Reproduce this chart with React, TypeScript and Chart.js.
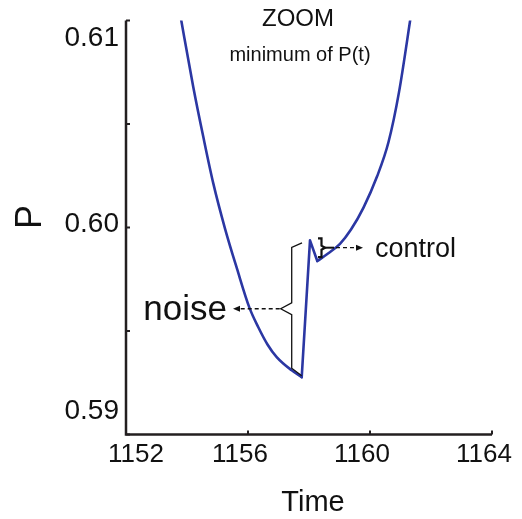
import React, { useEffect, useRef } from "react";
import { Chart, registerables } from "chart.js";

Chart.register(...registerables);

// Series: P(t) around the minimum
const TIME = [1153.77, 1154.207, 1154.534, 1154.862, 1155.246, 1155.639, 1156.043, 1156.338, 1156.639, 1156.941, 1157.433, 1157.761, 1158.033, 1158.272, 1158.623, 1159.016, 1159.377, 1159.787, 1160.23, 1160.607, 1160.951, 1161.361];
const P_VALUES = [0.61035, 0.60678, 0.60438, 0.60213, 0.59995, 0.59801, 0.59614, 0.59518, 0.59435, 0.59374, 0.5931, 0.59277, 0.59938, 0.59838, 0.59874, 0.59921, 0.5999, 0.60096, 0.60246, 0.60413, 0.60654, 0.61044];

const X_TICKS = [1152, 1156, 1160, 1164];
const Y_TICKS = [0.59, 0.595, 0.6, 0.605, 0.61];
const Y_LABELS = [0.59, 0.6, 0.61];
const X_RANGE = [1152, 1164];
const Y_RANGE = [0.59, 0.61];

const TITLE = "ZOOM";
const SUBTITLE = "minimum of P(t)";
const X_TITLE = "Time";
const Y_TITLE = "P";
const NOISE_LABEL = "noise";
const CONTROL_LABEL = "control";

const FONT = '"Liberation Sans", Arial, Helvetica, sans-serif';
const CURVE = "#2b37a3";
const INK = "#231f20";

function pts(a: number, b: number) {
  const out: { x: number; y: number }[] = [];
  for (let i = a; i <= b; i++) out.push({ x: TIME[i], y: P_VALUES[i] });
  return out;
}

export default function App() {
  const ref = useRef<HTMLCanvasElement | null>(null);

  useEffect(() => {
    if (!ref.current) return;
    // indices of the noise minimum, the kick peak and the control dip
    let minIdx = 0;
    for (let i = 0; i < P_VALUES.length; i++) if (P_VALUES[i] < P_VALUES[minIdx]) minIdx = i;
    const peakIdx = minIdx + 1;
    const dipIdx = minIdx + 2;

    const annot = {
      id: "annot",
      beforeDatasetsDraw(chart: any) {
        const ctx = chart.ctx;
        const xs = chart.scales.x;
        const ys = chart.scales.y;
        const ca = chart.chartArea;
        ctx.save();
        ctx.strokeStyle = INK;
        ctx.lineWidth = 2.5;
        ctx.lineCap = "butt";
        ctx.beginPath();
        ctx.moveTo(ca.left, ca.top);
        ctx.lineTo(ca.left, ca.bottom);
        ctx.lineTo(ca.right, ca.bottom);
        ctx.stroke();
        ctx.lineWidth = 2;
        // inward ticks
        for (const v of X_TICKS) {
          const px = xs.getPixelForValue(v);
          ctx.beginPath();
          ctx.moveTo(px, ca.bottom);
          ctx.lineTo(px, ca.bottom - 4);
          ctx.stroke();
        }
        for (const v of Y_TICKS) {
          const py = ys.getPixelForValue(v);
          ctx.beginPath();
          ctx.moveTo(ca.left, py);
          ctx.lineTo(ca.left + 4, py);
          ctx.stroke();
        }
        ctx.restore();
      },
      afterDraw(chart: any) {
        const ctx = chart.ctx;
        const xs = chart.scales.x;
        const ys = chart.scales.y;
        const ca = chart.chartArea;
        ctx.save();
        ctx.fillStyle = "#111";
        // y tick labels
        ctx.font = `28px ${FONT}`;
        ctx.textAlign = "right";
        ctx.textBaseline = "middle";
        const midY = (ca.top + ca.bottom) / 2;
        for (const v of Y_LABELS) {
          const py = ys.getPixelForValue(v);
          const ly = midY + (py - midY) * 0.9 - 3;
          ctx.fillText(v.toFixed(2), ca.left - 7, ly);
        }
        // x tick labels
        ctx.font = `26px ${FONT}`;
        ctx.textAlign = "center";
        for (const v of X_TICKS) {
          const px = xs.getPixelForValue(v);
          const label = String(v);
          const w = ctx.measureText(label).width;
          let cx = px - 8;
          if (cx - w / 2 < ca.left - 18) cx = ca.left - 18 + w / 2;
          ctx.fillText(label, cx, ca.bottom + 20);
        }
        // axis titles
        ctx.font = `29px ${FONT}`;
        ctx.fillText(X_TITLE, 313, ca.bottom + 68);
        ctx.save();
        ctx.translate(31, 217);
        ctx.rotate(-Math.PI / 2);
        ctx.font = `36px ${FONT}`;
        ctx.fillText(Y_TITLE, 0, 0);
        ctx.restore();
        // titles
        ctx.font = `24px ${FONT}`;
        ctx.fillText(TITLE, 298, 19);
        ctx.font = `20px ${FONT}`;
        ctx.fillText(SUBTITLE, 300, 55);

        // noise bracket
        const minX = xs.getPixelForValue(TIME[minIdx]);
        const minY = ys.getPixelForValue(P_VALUES[minIdx]);
        const pkX = xs.getPixelForValue(TIME[peakIdx]);
        const pkY = ys.getPixelForValue(P_VALUES[peakIdx]);
        const bx = minX - 10;
        const topY = pkY + 7;
        const botY = minY - 9;
        const tipY = (pkY + minY) / 2;
        ctx.strokeStyle = "#111";
        ctx.lineWidth = 1.3;
        ctx.setLineDash([]);
        ctx.beginPath();
        ctx.moveTo(pkX - 8, pkY + 2.5);
        ctx.lineTo(bx, topY);
        ctx.lineTo(bx, tipY - 6);
        ctx.lineTo(bx - 11, tipY);
        ctx.lineTo(bx, tipY + 6);
        ctx.lineTo(bx, botY);
        ctx.lineTo(minX, minY - 1.5);
        ctx.stroke();
        // noise dashed arrow
        ctx.setLineDash([4, 3]);
        ctx.beginPath();
        ctx.moveTo(bx - 12, tipY);
        ctx.lineTo(239, tipY);
        ctx.stroke();
        ctx.setLineDash([]);
        ctx.beginPath();
        ctx.moveTo(233, tipY);
        ctx.lineTo(240, tipY - 3);
        ctx.lineTo(240, tipY + 3);
        ctx.closePath();
        ctx.fill();
        ctx.font = `35px ${FONT}`;
        ctx.textAlign = "right";
        ctx.textBaseline = "alphabetic";
        ctx.fillText(NOISE_LABEL, 227, tipY + 11);

        // control bracket
        const dpY = ys.getPixelForValue(P_VALUES[dipIdx]);
        const cTop = pkY - 2;
        const cBot = dpY - 4;
        const cMid = (cTop + cBot) / 2;
        ctx.lineWidth = 2.2;
        ctx.beginPath();
        ctx.moveTo(318, cTop);
        ctx.lineTo(321.5, cTop);
        ctx.lineTo(321.5, cMid - 2);
        ctx.lineTo(325, cMid);
        ctx.lineTo(321.5, cMid + 2);
        ctx.lineTo(321.5, cBot);
        ctx.lineTo(318, cBot);
        ctx.stroke();
        ctx.lineWidth = 2;
        ctx.beginPath();
        ctx.moveTo(323, cMid);
        ctx.lineTo(334, cMid);
        ctx.stroke();
        ctx.lineWidth = 1.3;
        ctx.setLineDash([4, 3]);
        ctx.beginPath();
        ctx.moveTo(336, cMid);
        ctx.lineTo(357, cMid);
        ctx.stroke();
        ctx.setLineDash([]);
        ctx.beginPath();
        ctx.moveTo(363, cMid);
        ctx.lineTo(356, cMid - 3);
        ctx.lineTo(356, cMid + 3);
        ctx.closePath();
        ctx.fill();
        ctx.font = `27px ${FONT}`;
        ctx.textAlign = "left";
        ctx.fillText(CONTROL_LABEL, 375, cMid + 9);
        ctx.restore();
      },
    };

    const base = {
      borderColor: CURVE,
      borderWidth: 2.6,
      pointRadius: 0,
      fill: false,
      borderCapStyle: "round" as const,
      borderJoinStyle: "round" as const,
    };

    const chart = new Chart(ref.current, {
      type: "line",
      data: {
        datasets: [
          { ...base, data: pts(0, minIdx), cubicInterpolationMode: "monotone" },
          { ...base, data: pts(minIdx, dipIdx), tension: 0 },
          { ...base, data: pts(dipIdx, TIME.length - 1), cubicInterpolationMode: "monotone" },
        ],
      },
      options: {
        animation: false,
        responsive: false,
        devicePixelRatio: 1,
        layout: { padding: { left: 126, right: 30, top: 20.5, bottom: 84.5 } },
        plugins: { legend: { display: false }, tooltip: { enabled: false }, title: { display: false } },
        scales: {
          x: { type: "linear", min: X_RANGE[0], max: X_RANGE[1], display: false },
          y: { type: "linear", min: Y_RANGE[0], max: Y_RANGE[1], display: false },
        },
      },
      plugins: [annot],
    });
    return () => chart.destroy();
  }, []);

  return (
    <div style={{ position: "absolute", left: 0, top: 0, width: 522, height: 519, background: "#fff" }}>
      <canvas ref={ref} width={522} height={519} />
    </div>
  );
}
